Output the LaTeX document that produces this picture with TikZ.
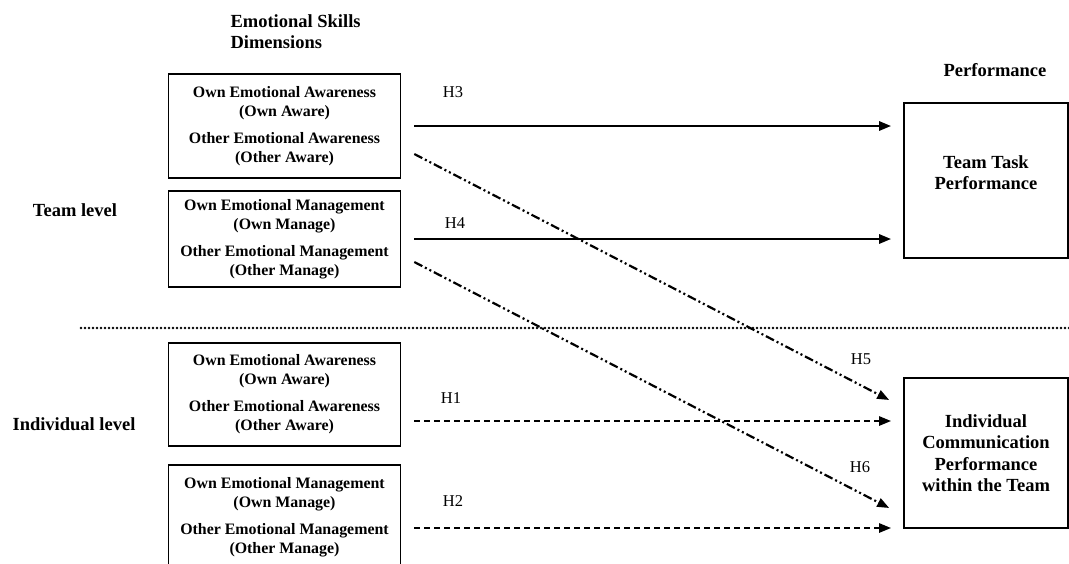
\documentclass[tikz,border=0pt]{standalone}
\usepackage{fontspec}
\setmainfont{Liberation Serif}
\usetikzlibrary{arrows.meta,calc}

\begin{document}
\begin{tikzpicture}[x=1pt,y=-1pt,>={Triangle[length=12pt,width=9pt]},
	skillbox/.style={draw,line width=1.6pt,minimum width=232pt,inner sep=0pt,align=center,font=\bfseries\fontsize{15.9}{19}\selectfont},
	perfbox/.style={draw,line width=1.6pt,minimum width=164pt,align=center,font=\bfseries\fontsize{18.5}{21.5}\selectfont},
	heading/.style={align=center,font=\bfseries\fontsize{18.5}{21.5}\selectfont},
	hyp/.style={font=\fontsize{16.5}{19}\selectfont},
	direct/.style={->,line width=2.6pt},
	indiv/.style={->,line width=2.4pt,dash pattern=on 6pt off 4pt},
	cross/.style={->,line width=2.2pt,dash pattern=on 9pt off 3pt on 2pt off 3pt on 2pt off 3pt}]

	\useasboundingbox (0,0) rectangle (1069,563);
	\clip (0,0) rectangle (1069,563);

	% headings
	\node [heading,align=left,anchor=west] (esd) at (227,31.5) {Emotional Skills\\Dimensions};
	\node [heading] (perf) at (995,70) {Performance};
	\node [heading] (team) at (75,210) {Team level};
	\node [heading] (indiv) at (74,424) {Individual level};

	% skills boxes
	\foreach \name/\y/\h/\what/\short in {teamaware/126/104/Awareness/Aware,
		teammanage/239/96/Management/Manage,
		indaware/394.5/103/Awareness/Aware,
		indmanage/517/104/Management/Manage}
		\node [skillbox,minimum height=\h pt] (\name) at (284.5,\y)
			{Own Emotional \what\\(Own \short)\\[8pt]Other Emotional \what\\(Other \short)};

	% performance boxes
	\node [perfbox,minimum height=155pt] (ttp) at (986,180.5) {};
	\node [heading] (ttptext) at ($(ttp.center)+(0,-8)$) {Team Task\\Performance};
	\node [perfbox,minimum height=150pt] (icp) at (986,453) {Individual\\Communication\\Performance\\within the Team};

	% level separator
	\draw [line width=2.6pt,line cap=round,dash pattern=on 0pt off 4pt] (81,328) -- (1069,328);

	% team level paths
	\coordinate (h3s) at ($(teamaware.east)+(13,0)$);
	\coordinate (h4s) at ($(teammanage.east)+(13,0)$);
	\draw [direct] (h3s) -- ($(ttp.west |- h3s)+(-12,0)$);
	\draw [direct] (h4s) -- ($(ttp.west |- h4s)+(-12,0)$);
	\draw [cross] ($(teamaware.east)+(13,28)$) -- ($(icp.west)+(-14,-53)$);
	\draw [cross] ($(teammanage.east)+(13,23)$) -- ($(icp.west)+(-14,55)$);

	% individual level paths
	\coordinate (h1s) at ($(indaware.east)+(13,26.5)$);
	\coordinate (h2s) at ($(indmanage.east)+(13,11)$);
	\draw [indiv] (h1s) -- ($(icp.west |- h1s)+(-12,0)$);
	\draw [indiv] (h2s) -- ($(icp.west |- h2s)+(-12,0)$);

	% hypotheses
	\node [hyp] (h3) at (453,92) {H3};
	\node [hyp] (h4) at (455,223) {H4};
	\node [hyp] (h5) at (861,359) {H5};
	\node [hyp] (h6) at (860,467) {H6};
	\node [hyp] (h1) at (451,398) {H1};
	\node [hyp] (h2) at (453,501) {H2};
\end{tikzpicture}
\end{document}
